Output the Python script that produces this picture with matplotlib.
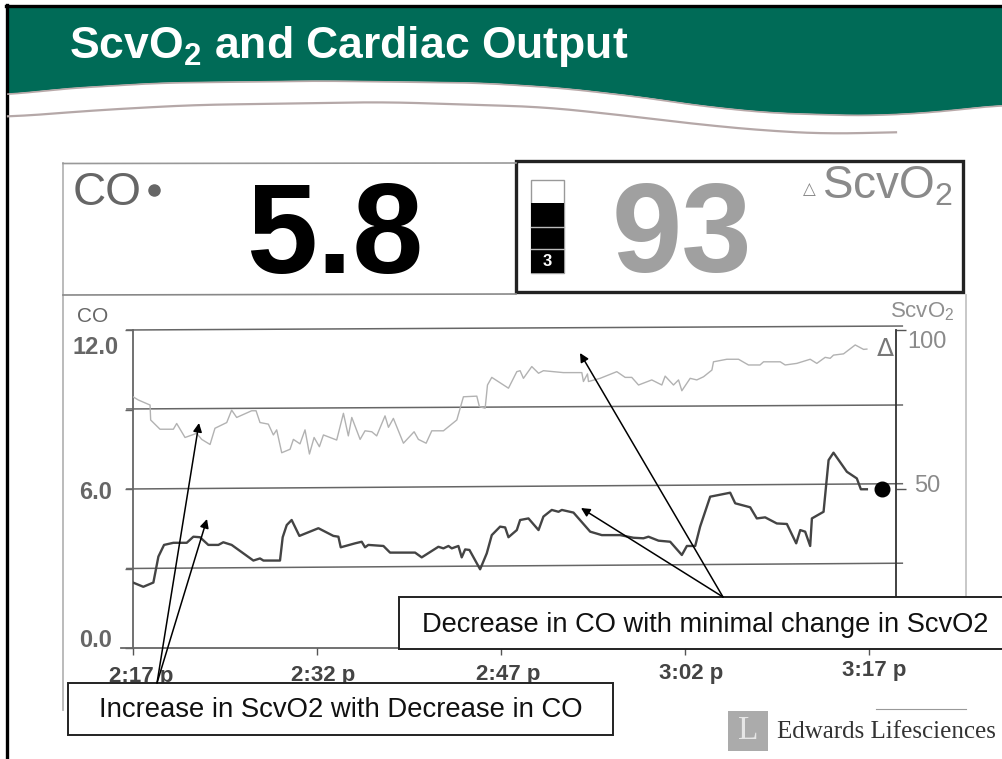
import matplotlib
matplotlib.use("Agg")
import matplotlib.pyplot as plt
from matplotlib.patches import Rectangle, Ellipse
from matplotlib.transforms import ScaledTranslation
import numpy as np

plt.rcParams['font.family'] = ['Liberation Sans', 'DejaVu Sans']
plt.rcParams['mathtext.fontset'] = 'custom'
plt.rcParams['mathtext.rm'] = 'Liberation Sans'
plt.rcParams['mathtext.bf'] = 'Liberation Sans:bold'
plt.rcParams['mathtext.default'] = 'regular'

# ---- data -----------------------------------------------------------------
scvo2_minutes = [0, .43, 1.39, 1.44, 2.2, 3.29, 3.56, 4.24, 5.19, 5.6, 6.28, 6.68, 7.64, 8.04, 8.45, 9.67, 10.03,
                 10.35, 11.03, 11.44, 11.71, 12.12, 12.8, 13.07, 13.61, 14.02, 14.38, 14.76, 15.19, 15.52, 16.6,
                 17.15, 17.55, 17.83, 18.51, 18.91, 19.46, 19.86, 20.54, 20.82, 21.22, 22.04, 22.91, 23.26, 23.89,
                 24.35, 25.3, 26.39, 26.93, 28.02, 28.23, 28.7, 28.89, 29.24, 30.6, 31.28, 31.55, 31.82, 32.5,
                 33.05, 33.45, 35.08, 36.58, 36.71, 37.04, 37.12, 38.07, 39.43, 40.11, 40.65, 41.2, 42.28, 43.1,
                 43.37, 44.05, 44.46, 44.73, 45.41, 45.95, 46.5, 47.18, 47.31, 48.4, 49.35, 50.16, 51.1, 51.39,
                 52.75, 53.15, 54.1, 55.19, 55.73, 56.41, 56.82, 57.09, 57.91, 58.86, 59.54, 59.81]
scvo2_values = [79.0, 78.0, 76.4, 71.7, 68.8, 68.8, 70.6, 66.2, 67.5, 65.6, 64.0, 69.1, 70.9, 74.8, 72.5, 74.6, 74.6,
                70.9, 70.4, 67.0, 68.6, 61.4, 62.5, 65.6, 64.2, 68.6, 61.0, 66.2, 63.3, 67.0, 65.4,
                73.8, 66.7, 72.5, 65.6, 68.3, 68.0, 66.7, 73.0, 69.4, 72.2, 64.4, 68.0, 65.6, 64.4,
                68.3, 68.3, 71.7, 79.0, 79.2, 75.9, 75.4, 82.7, 85.1, 81.7, 86.9, 87.2, 84.8, 88.5,
                86.4, 87.2, 86.6, 86.6, 83.8, 86.2, 83.8, 84.8, 86.9, 85.1, 85.1, 82.7, 84.3, 82.7,
                85.5, 82.7, 84.3, 80.9, 84.8, 84.3, 85.3, 87.4, 90.0, 90.8, 90.8, 89.0, 89.0, 90.0,
                90.0, 89.0, 89.5, 90.8, 89.5, 91.4, 91.1, 92.1, 92.5, 95.3, 93.9, 94.0]

co_minutes = [0, .84, 1.66, 2.07, 2.53, 3.29, 4.38, 4.92, 5.46, 6.14, 6.96, 7.36, 8.04, 9.81, 10.35, 10.63, 11.98,
              12.2, 12.53, 12.93, 13.56, 15.11, 16.33, 16.74, 16.93, 18.1, 18.64, 18.91, 19.18, 20.41, 20.95,
              22.99, 23.53, 24.89, 25.3, 25.71, 25.98, 26.52, 26.79, 27.07, 27.42, 28.29, 28.83, 29.24, 29.92,
              30.33, 30.6, 31.28, 31.55, 32.23, 33.05, 33.45, 34.13, 34.68, 34.95, 35.9, 37.26, 38.21, 39.7,
              40.79, 41.6, 42.01, 42.83, 43.78, 44.73, 45.14, 45.82, 46.22, 47.04, 48.67, 49.08, 50.3, 50.84,
              51.52, 52.47, 53.29, 54.05, 54.38, 54.78, 55.19, 55.33, 56.28, 56.69, 57.09, 58.18, 58.99, 59.32, 59.81]
co_values = [2.47, 2.31, 2.47, 3.45, 3.89, 3.97, 3.97, 4.2, 4.18, 3.89, 3.89, 3.99, 3.89, 3.3, 3.38, 3.3, 3.3,
             4.18, 4.64, 4.83, 4.23, 4.52, 4.23, 4.2, 3.8, 3.95, 4.01, 3.8, 3.89, 3.85, 3.6,
             3.6, 3.42, 3.82, 3.76, 3.85, 3.76, 3.85, 3.42, 3.72, 3.7, 2.97, 3.57, 4.26, 4.58,
             4.55, 4.18, 4.45, 4.83, 4.89, 4.45, 4.96, 5.21, 5.14, 5.21, 5.11, 4.39, 4.26, 4.26,
             4.16, 4.14, 4.2, 4.05, 4.01, 3.51, 3.85, 3.85, 4.58, 5.71, 5.86, 5.46, 5.31, 4.89,
             4.93, 4.7, 4.68, 3.95, 4.45, 4.39, 3.85, 4.89, 5.14, 7.09, 7.37, 6.65, 6.4, 5.99, 5.99]
co_now_minute = 61.03
co_now_value = 5.99

time_ticks = [0, 15, 30, 45, 60]
time_labels = ['2:17 p', '2:32 p', '2:47 p', '3:02 p', '3:17 p']
co_ticks = [0, 3, 6, 9, 12]
co_labels = ['0.0', '', '6.0', '', '12.0']
scvo2_ticks = [50, 100]
scvo2_labels = ['50', '100']

W, H = 1003, 759
GREEN = '#006b57'
fig = plt.figure(figsize=(W / 100, H / 100), dpi=100, facecolor='white')

def px_axes(z):
    a = fig.add_axes([0, 0, 1, 1], zorder=z)
    a.set_xlim(0, W); a.set_ylim(H, 0); a.axis('off'); a.patch.set_alpha(0)
    return a

def smooth(v, n):
    return np.convolve(np.pad(v, n, mode='edge'), np.ones(2 * n + 1) / (2 * n + 1), mode='valid')

bg = px_axes(0)
fg = px_axes(5)

# ---- slide frame and banner ------------------------------------------------
bg.plot([7.5, 7.5], [5, 759], color='black', lw=2.4)
bg.plot([6, 1003], [5.5, 5.5], color='black', lw=2.4)
edge_x = [8, 60, 160, 320, 480, 560, 640, 700, 768, 864, 928, 1003]
edge_y = [94, 88, 82, 80, 82, 87, 96, 105, 112, 115, 112, 104]
bx = np.linspace(8, 1003, 400)
by = smooth(np.interp(bx, edge_x, edge_y), 12)
bg.fill_between(bx, 7, by, color=GREEN, lw=0)
bg.plot(bx, by + 1, color='#b9a9a9', lw=1.2)
sw_x = [8, 100, 192, 384, 544, 620, 704, 770, 832, 896]
sw_y = [117, 110, 105, 102, 107, 115, 125, 131, 134, 132]
sx = np.linspace(8, 896, 400)
sy = smooth(np.interp(sx, sw_x, sw_y), 16)
bg.plot(sx, sy, color='#b5a8a8', lw=1.6)
bg.text(69, 58, 'ScvO$_2$ and Cardiac Output', color='white', fontsize=32, fontweight='bold', va='baseline')

# ---- monitor frame and read-outs ------------------------------------------
bg.plot([63.5, 63.5], [163, 710], color='#b5b5b5', lw=1.3)
bg.plot([966, 966], [295, 596], color='#c4c4c4', lw=1.3)
bg.plot([63, 516], [163.5, 163], color='#999999', lw=1.2)
bg.plot([63, 516], [295, 294], color='#888888', lw=1.2)
bg.add_patch(Rectangle((516, 160.5), 447, 131.5, fc='white', ec='#222222', lw=2.4))
bg.text(73, 205, 'CO', color='#666666', fontsize=33, va='baseline')
bg.plot([154], [190], 'o', color='#666666', ms=8)
bg.text(246, 273, '5.8', color='black', fontsize=92, fontweight='bold', va='baseline')
bg.text(612, 272, '93', color='#a0a0a0', fontsize=91, fontweight='bold', va='baseline')
bg.text(809, 194, '\u25b3', color='#888888', fontsize=12, family=['DejaVu Sans'], va='baseline', ha='center')
bg.text(822, 199, 'ScvO$_2$', color='#8a8a8a', fontsize=33, va='baseline')
bg.add_patch(Rectangle((531, 180), 33, 93, fc='white', ec='#999999', lw=1))
bg.add_patch(Rectangle((531, 203), 33, 70, fc='black', lw=0))
bg.plot([531, 564], [227, 227], color='#bbbbbb', lw=1)
bg.plot([531, 564], [249, 249], color='#bbbbbb', lw=1)
bg.text(547.5, 261.5, '3', color='white', fontsize=12, fontweight='bold', ha='center', va='center')

# ---- trend chart ----------------------------------------------------------
x0, x1, y0, y1 = 133, 896, 648, 330
rect = [x0 / W, 1 - y0 / H, (x1 - x0) / W, (y0 - y1) / H]
ax = fig.add_axes(rect, zorder=1)
ax.patch.set_alpha(0)
ax.set_xlim(0, (x1 - x0) / 12.27)
ax.set_ylim(0, 12)
ax2 = ax.twinx()
ax2.set_zorder(2)
ax2.patch.set_alpha(0)
ax2.set_ylim(0, 100)

for a in (ax, ax2):
    for s in ('top', 'bottom'):
        a.spines[s].set_visible(False)
ax.spines['right'].set_visible(False)
ax2.spines['left'].set_visible(False)
ax.spines['left'].set_color('#666666'); ax.spines['left'].set_linewidth(1.3)
ax2.spines['right'].set_color('#333333'); ax2.spines['right'].set_linewidth(1.3)

ax.set_xticks(time_ticks, time_labels)
ax.tick_params(axis='x', length=5, width=1, color='#555555', labelsize=16, labelcolor='#444444', pad=8)
for lab, dx, dy in zip(ax.get_xticklabels(), [8, 6, 7, 6, 5], [0, 1, 2, 3, 6]):
    lab.set_fontweight('bold')
    lab.set_transform(lab.get_transform() + ScaledTranslation(dx / 100, dy / 100, fig.dpi_scale_trans))
ax.set_yticks(co_ticks, co_labels)
ax.tick_params(axis='y', length=6, width=1, color='#666666', labelsize=17, labelcolor='#666666', pad=9)
for lab, dx, dy in zip(ax.get_yticklabels(), [0, 0, 0, 0, 6], [10, 0, -1, 0, -15]):
    lab.set_fontweight('bold')
    lab.set_transform(lab.get_transform() + ScaledTranslation(dx / 100, dy / 100, fig.dpi_scale_trans))
ax2.set_yticks(scvo2_ticks, scvo2_labels)
ax2.tick_params(axis='y', length=7, width=1, color='#555555', labelsize=17, labelcolor='#8a8a8a', pad=7)
for lab, dx, dy in zip(ax2.get_yticklabels(), [-1, -8], [5, -10]):
    lab.set_transform(lab.get_transform() + ScaledTranslation(dx / 100, dy / 100, fig.dpi_scale_trans))

grid_left = [3.0, 6.0, 9.02, 12.0]
grid_right = [3.2, 6.2, 9.17, 12.15]
for gl, gr in zip(grid_left, grid_right):
    ax.plot([-0.5, 62.7], [gl, gr], color='#666666', lw=1.1, clip_on=False, zorder=1)
ax.plot([-1, 62.7], [0, 0], color='#666666', lw=1.3, clip_on=False, zorder=1)

ax2.plot(scvo2_minutes, scvo2_values, color='#b2b2b2', lw=1.0, zorder=3)
ax.plot(co_minutes, co_values, color='#444444', lw=1.7, zorder=3)
ax.plot([co_now_minute], [co_now_value], 'o', color='black', ms=10.5, zorder=4, clip_on=False)
ax.annotate('\u0394', (59.81, 11.3), xytext=(10, 0), textcoords='offset pixels', fontsize=18,
            color='#777777', va='center', family=['DejaVu Sans'], annotation_clip=False)

bg.text(77, 317, 'CO', color='#666666', fontsize=15, va='center')
bg.text(890, 312, 'ScvO$_2$', color='#8f8f8f', fontsize=16, va='center')

# ---- call-outs ------------------------------------------------------------
for (tx, ty), (sx0, sy0) in [((580, 353), (723, 597)), ((581, 508), (723, 597)),
                             ((199, 423), (157, 683)), ((207, 519), (157, 683))]:
    fg.annotate('', xy=(tx, ty), xytext=(sx0, sy0),
                arrowprops=dict(arrowstyle='-|>', color='black', lw=1.1, mutation_scale=13,
                                shrinkA=0, shrinkB=0))
fg.add_patch(Rectangle((399, 597), 620, 52, fc='white', ec='#222222', lw=1.4, clip_on=True))
fg.text(422, 625, 'Decrease in CO with minimal change in ScvO2', fontsize=19.6, color='#111111', va='center')
fg.add_patch(Rectangle((68, 683), 545, 52, fc='white', ec='#222222', lw=1.4))
fg.text(99, 710, 'Increase in ScvO2 with Decrease in CO', fontsize=19.8, color='#111111', va='center')

# ---- logo -----------------------------------------------------------------
fg.add_patch(Rectangle((728, 711), 40, 40, fc='#ababab', lw=0))
fg.text(748, 731, 'L', color='#e6e6e6', fontsize=24, family=['Liberation Serif'], ha='center', va='center')
fg.plot([876, 966], [709, 709], color='#999999', lw=0.8)
fg.text(777, 732, 'Edwards Lifesciences', fontsize=18, family=['Liberation Serif'], color='#333333', va='center')

fig.savefig('out.png', dpi=100, facecolor='white')
